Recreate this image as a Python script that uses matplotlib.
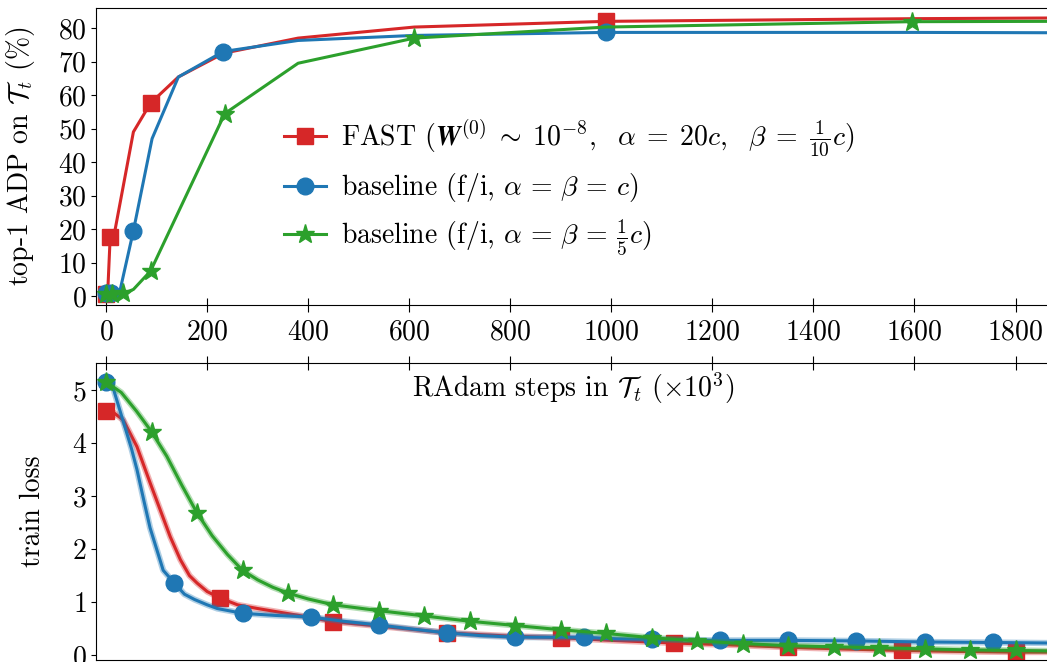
import numpy as np
import matplotlib
matplotlib.use("Agg")
import matplotlib.pyplot as plt

plt.rcParams['font.family'] = 'serif'
plt.rcParams['font.serif'] = ['cmr10', 'DejaVu Serif']
plt.rcParams['mathtext.fontset'] = 'cm'
plt.rcParams['axes.formatter.use_mathtext'] = True
plt.rcParams['axes.unicode_minus'] = False

RED, BLUE, GREEN = '#d62728', '#1f77b4', '#2ca02c'
FS = 20

# ---- top panel: top-1 ADP (%) vs steps (x10^3)
fast_x = [0, 3, 8, 18, 54, 88, 143, 233, 380, 610, 990, 1600, 1870]
fast_adp = [0.5, 0.5, 17.5, 20.0, 49.0, 57.6, 65.4, 72.5, 77.0, 80.3, 82.0, 82.8, 83.0]
fast_mk = [0, 2, 5, 10]

fi_x = [0, 10, 18, 28, 54, 91, 143, 232, 380, 610, 990, 1600, 1870]
fi_adp = [1.0, 0.8, 0.5, 2.0, 19.5, 47.0, 65.4, 73.0, 76.3, 77.8, 78.7, 78.7, 78.6]
fi_mk = [0, 1, 4, 7, 10]

fi5_x = [0, 12, 34, 54, 88, 235, 380, 610, 990, 1595, 1870]
fi5_adp = [0.5, 0.6, 0.8, 2.0, 7.5, 54.5, 69.5, 77.0, 80.3, 81.9, 82.0]
fi5_mk = [0, 1, 2, 4, 5, 7, 9]

# ---- bottom panel: train loss
fast_lx = [0, 15, 34, 61, 87, 107, 127, 147, 165, 180, 200, 225, 260, 300, 350,
           400, 450, 540, 675, 800, 900, 1000, 1125, 1250, 1350, 1450, 1575,
           1700, 1800, 1870]
fast_loss = [4.6, 4.57, 4.43, 3.93, 3.25, 2.74, 2.23, 1.8, 1.5, 1.36, 1.2, 1.08,
             0.95, 0.88, 0.8, 0.72, 0.63, 0.55, 0.42, 0.36, 0.33, 0.28, 0.23,
             0.19, 0.15, 0.12, 0.09, 0.07, 0.06, 0.06]

fi_lx = [0, 15, 34, 50, 61, 75, 87, 100, 113, 135, 155, 175, 200, 220, 270, 335,
         405, 470, 540, 610, 675, 740, 810, 880, 945, 1010, 1080, 1215, 1350,
         1485, 1620, 1755, 1870]
fi_loss = [5.15, 5.0, 4.4, 3.9, 3.5, 2.9, 2.4, 2.0, 1.6, 1.36, 1.15, 1.05, 0.95,
           0.88, 0.79, 0.75, 0.72, 0.64, 0.57, 0.49, 0.42, 0.37, 0.34, 0.34,
           0.34, 0.31, 0.3, 0.28, 0.28, 0.27, 0.25, 0.24, 0.23]

fi5_lx = [0, 30, 60, 90, 120, 150, 180, 210, 240, 270, 300, 330, 360, 400, 450,
          540, 630, 720, 810, 900, 990, 1080, 1170, 1260, 1350, 1440, 1530,
          1620, 1710, 1800, 1870]
fi5_loss = [5.15, 4.95, 4.6, 4.21, 3.75, 3.2, 2.68, 2.25, 1.9, 1.6, 1.42, 1.28,
            1.17, 1.06, 0.95, 0.84, 0.74, 0.64, 0.56, 0.48, 0.41, 0.33, 0.27,
            0.22, 0.18, 0.16, 0.14, 0.12, 0.1, 0.09, 0.08]

labels = [
    r'FAST ($\boldsymbol{W}^{(0)} \;\sim\; 10^{-8},\ \ \alpha\;=\;20c,\ \ \beta\;=\;\frac{1}{10}c$)',
    r'baseline (f/i, $\alpha\,=\,\beta\,=\,c$)',
    r'baseline (f/i, $\alpha\,=\,\beta\,=\,\frac{1}{5}c$)',
]

fig = plt.figure(figsize=(10.47, 6.62), dpi=100)
ax1 = fig.add_axes([0.0917, 0.539, 0.912, 0.449])
ax2 = fig.add_axes([0.0917, 0.003, 0.912, 0.449])

lw = 2.2
ax1.plot(fast_x, fast_adp, color=RED, lw=lw, marker='s', ms=12, markevery=fast_mk, label=labels[0])
ax1.plot(fi_x, fi_adp, color=BLUE, lw=lw, marker='o', ms=12, markevery=fi_mk, label=labels[1])
ax1.plot(fi5_x, fi5_adp, color=GREEN, lw=lw, marker='*', ms=14, markevery=fi5_mk, label=labels[2])

ax1.set_xlim(-20, 1870)
ax1.set_ylim(-2.7, 86)
ax1.set_xticks(np.arange(0, 1801, 200))
ax1.set_yticks(np.arange(0, 81, 10))
ax1.tick_params(axis='x', direction='inout', length=10, labelsize=FS, pad=5)
ax1.tick_params(axis='y', labelsize=FS, pad=3)
ax1.set_ylabel(r'top-1 ADP on $\mathcal{T}_t$ (%)', fontsize=FS)
ax1.yaxis.set_label_coords(-0.062, 0.5)
ax1.spines['right'].set_visible(False)
ax1.legend(loc='upper left', bbox_to_anchor=(0.197, 0.63), frameon=False,
           fontsize=FS, handlelength=1.5, handletextpad=0.55, labelspacing=0.45,
           borderpad=0, borderaxespad=0)

# bottom panel: soft band under each line to suggest the noisy traces
for xs, ys, c, m, ms, step in [(fast_lx, fast_loss, RED, 's', 12, 225),
                               (fi_lx, fi_loss, BLUE, 'o', 12, 135),
                               (fi5_lx, fi5_loss, GREEN, '*', 14, 90)]:
    mk = [i for i, x in enumerate(xs) if x % step == 0]
    ax2.plot(xs, ys, color=c, lw=4.5, alpha=0.35)
    ax2.plot(xs, ys, color=c, lw=lw, marker=m, ms=ms, markevery=mk)

ax2.set_xlim(-20, 1870)
ax2.set_ylim(-0.09, 5.51)
ax2.set_xticks(np.arange(0, 1801, 200))
ax2.set_yticks(np.arange(0, 6, 1))
ax2.tick_params(axis='x', top=True, bottom=False, labeltop=False, labelbottom=False,
                direction='inout', length=10)
ax2.tick_params(axis='y', labelsize=FS, pad=3)
ax2.set_ylabel('train loss', fontsize=FS)
ax2.yaxis.set_label_coords(-0.052, 0.5)
ax2.spines['right'].set_visible(False)
ax2.text(0.5, 0.916, r'RAdam steps in $\mathcal{T}_t$ ($\times 10^3$)',
         transform=ax2.transAxes, ha='center', va='center', fontsize=FS)

fig.savefig('out.png', dpi=100)
